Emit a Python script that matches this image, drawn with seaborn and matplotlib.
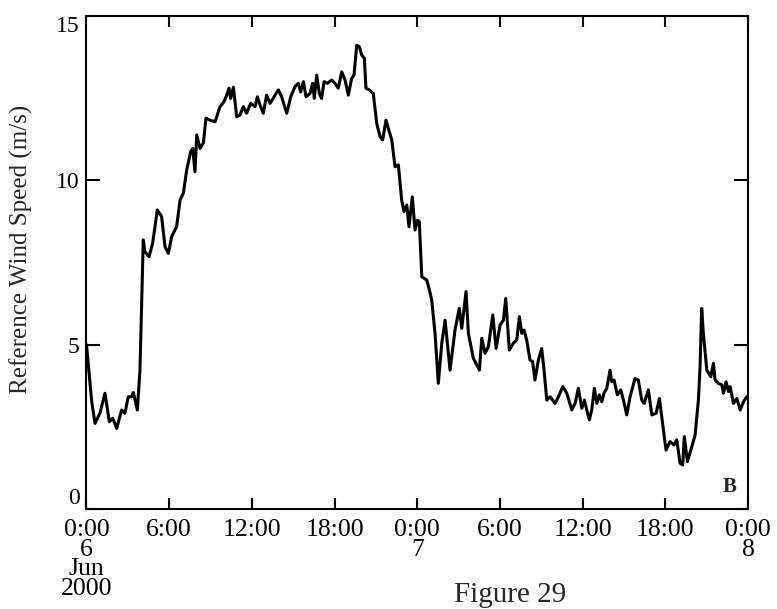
import pandas as pd
import seaborn as sns
import matplotlib
matplotlib.use("Agg")
import matplotlib.pyplot as plt

# hours since 0:00 on 6 Jun 2000
hours = [
    0.00, 0.38, 0.62, 0.98, 1.34, 1.66, 1.90, 2.19, 2.55, 2.79, 3.03, 3.27, 3.40, 3.69, 3.88,
    4.12, 4.24, 4.54, 4.80, 5.14, 5.45, 5.70, 5.94, 6.18, 6.54, 6.79, 7.03, 7.27, 7.56, 7.71,
    7.87, 8.00, 8.24, 8.48, 8.67, 8.96, 9.33, 9.69, 9.98, 10.17, 10.34, 10.46, 10.66, 10.90,
    11.14, 11.38, 11.62, 11.91, 12.23, 12.40, 12.59, 12.83, 13.07, 13.32, 13.61, 13.92, 14.16,
    14.53, 14.82, 15.13, 15.37, 15.54, 15.74, 15.93, 16.22, 16.41, 16.53, 16.70, 16.90, 17.06,
    17.24, 17.48, 17.79, 18.03, 18.27, 18.52, 18.76, 19.00, 19.24, 19.41, 19.61, 19.80, 19.97,
    20.16, 20.28, 20.52, 20.81, 21.06, 21.30, 21.49, 21.73, 21.90, 22.15, 22.39, 22.63, 22.87,
    23.04, 23.24, 23.40, 23.64, 23.84, 24.01, 24.15, 24.33, 24.69, 24.88, 25.05, 25.29, 25.53,
    25.78, 26.02, 26.38, 26.74, 27.05, 27.23, 27.54, 27.71, 28.07, 28.51, 28.68, 28.92, 29.16,
    29.48, 29.72, 30.01, 30.25, 30.42, 30.68, 30.97, 31.22, 31.41, 31.58, 31.75, 31.94, 32.18,
    32.37, 32.54, 32.79, 33.03, 33.20, 33.40, 33.64, 34.00, 34.24, 34.56, 34.85, 35.21, 35.45,
    35.69, 35.94, 36.13, 36.30, 36.49, 36.66, 36.85, 37.03, 37.21, 37.39, 37.55, 37.75, 37.99,
    38.11, 38.28, 38.52, 38.77, 38.96, 39.20, 39.44, 39.80, 40.04, 40.29, 40.46, 40.77, 41.02,
    41.33, 41.57, 41.74, 42.05, 42.34, 42.63, 42.83, 43.07, 43.26, 43.38, 43.60, 43.92, 44.16,
    44.40, 44.52, 44.64, 44.76, 45.01, 45.30, 45.49, 45.61, 45.85, 46.10, 46.22, 46.41, 46.58,
    46.70, 46.94, 47.19, 47.43, 47.67, 47.91,
]

speed = [
    5.00, 3.26, 2.60, 2.92, 3.52, 2.65, 2.76, 2.45, 3.01, 2.91, 3.41, 3.41, 3.54, 3.01, 4.22,
    8.18, 7.82, 7.67, 8.08, 9.09, 8.89, 7.97, 7.77, 8.28, 8.58, 9.39, 9.60, 10.30, 10.86, 10.96,
    10.25, 11.37, 10.96, 11.12, 11.88, 11.82, 11.77, 12.23, 12.38, 12.58, 12.79, 12.48, 12.82,
    11.92, 11.98, 12.23, 12.03, 12.33, 12.23, 12.53, 12.28, 12.03, 12.58, 12.33, 12.53, 12.74,
    12.53, 12.03, 12.53, 12.84, 12.94, 12.68, 12.99, 12.53, 12.63, 12.94, 12.48, 13.19, 12.63,
    12.48, 12.99, 12.94, 13.04, 12.94, 12.79, 13.29, 13.04, 12.58, 13.09, 13.19, 14.10, 14.05,
    13.80, 13.70, 12.79, 12.74, 12.63, 11.72, 11.32, 11.22, 11.82, 11.57, 11.22, 10.40, 10.46,
    9.39, 9.04, 9.24, 8.58, 9.49, 8.48, 8.78, 8.73, 7.06, 6.96, 6.66, 6.35, 5.34, 3.82, 5.04,
    5.74, 4.22, 5.44, 6.10, 5.49, 6.61, 5.34, 4.58, 4.22, 5.19, 4.73, 4.93, 5.90, 4.88, 5.59,
    5.74, 6.40, 4.83, 5.04, 5.14, 5.85, 5.34, 5.44, 5.14, 4.53, 4.48, 3.92, 4.53, 4.88, 4.22,
    3.31, 3.41, 3.21, 3.41, 3.72, 3.52, 3.01, 3.21, 3.67, 3.06, 3.31, 3.01, 2.71, 3.01, 3.67,
    3.21, 3.47, 3.26, 3.52, 3.67, 4.22, 3.87, 3.92, 3.47, 3.62, 3.31, 2.86, 3.41, 3.97, 3.92,
    3.31, 3.21, 3.62, 2.86, 2.91, 3.36, 2.81, 1.79, 2.05, 1.95, 2.10, 1.39, 1.34, 2.20, 1.44,
    1.89, 2.25, 3.31, 4.33, 6.10, 5.34, 4.22, 4.02, 4.43, 3.92, 3.82, 3.77, 3.52, 3.87, 3.57,
    3.72, 3.21, 3.36, 3.01, 3.26, 3.41,
]

tick_hours = [0, 6, 12, 18, 24, 30, 36, 42, 48]
tick_labels = ["0:00\n6\nJun\n2000", "6:00", "12:00", "18:00", "0:00\n7",
               "6:00", "12:00", "18:00", "0:00\n8"]

df = pd.DataFrame({"hour": hours, "speed": speed})

sns.set_style("ticks")
plt.rcParams["font.family"] = ["Liberation Serif", "DejaVu Serif"]

fig = plt.figure(figsize=(7.77, 6.09), dpi=100)
ax = fig.add_axes([0.1113, 0.1642, 0.8514, 0.8103])

sns.lineplot(data=df, x="hour", y="speed", ax=ax, color="black", linewidth=2.2)

ax.set_xlim(0, 48)
ax.set_ylim(0, 15)
ax.set_xticks(tick_hours)
ax.set_xticklabels(tick_labels, fontsize=18.5, linespacing=0.87, va="top")
ax.set_yticks([0, 5, 10, 15])
ax.set_yticklabels(["0", "5", "10", "15"], fontsize=17)
ylabels = ax.get_yticklabels()
ylabels[0].set_va("bottom")
ylabels[-1].set_va("top")
ax.tick_params(axis="x", direction="in", length=8, width=1.5, top=True, pad=7, colors="black")
ax.tick_params(axis="y", direction="in", length=10, width=1.5, right=True, pad=5, colors="black")
for s in ax.spines.values():
    s.set_visible(True)
    s.set_linewidth(1.5)
    s.set_color("black")

ax.set_xlabel("")
ax.set_ylabel("Reference Wind Speed (m/s)", fontsize=18)
ax.yaxis.set_label_coords(-0.081, 0.527)

ax.text(0.983, 0.025, "B", transform=ax.transAxes, ha="right", va="bottom",
        fontsize=15, fontweight="bold")
fig.text(0.657, 0.002, "Figure 29", ha="center", va="bottom", fontsize=21)

fig.savefig("out.png", dpi=100)
